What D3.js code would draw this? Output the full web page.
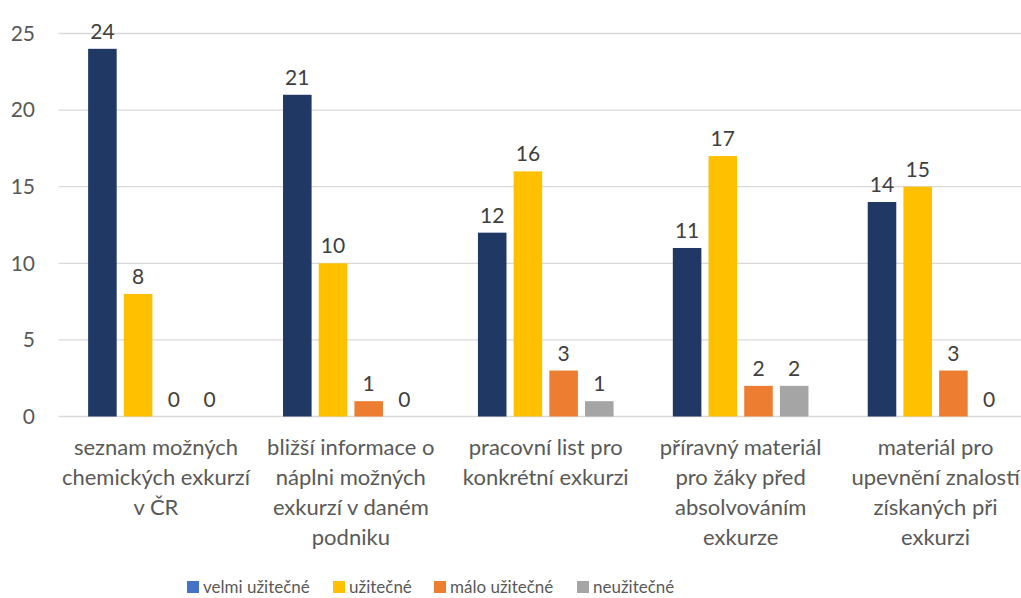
<!DOCTYPE html>
<html>
<head>
<meta charset="utf-8">
<script src="https://cdn.jsdelivr.net/npm/d3@7/dist/d3.min.js"></script>
<style>
  html, body { margin: 0; padding: 0; background: #fff; }
  svg { display: block; font-family: Lato, "Noto Sans", sans-serif; }
</style>
</head>
<body>
<svg id="chart" width="1021" height="598"></svg>
<script>
const categories = [
  ["seznam možných", "chemických exkurzí", "v ČR"],
  ["bližší informace o", "náplni možných", "exkurzí v daném", "podniku"],
  ["pracovní list pro", "konkrétní exkurzi"],
  ["příravný materiál", "pro žáky před", "absolvováním", "exkurze"],
  ["materiál pro", "upevnění znalostí", "získaných při", "exkurzi"]
];
const seriesNames = ["velmi užitečné", "užitečné", "málo užitečné", "neužitečné"];
const velmi = [24, 21, 12, 11, 14];
const uzitecne = [8, 10, 16, 17, 15];
const malo = [0, 1, 3, 2, 3];
const neuzitecne = [0, 0, 1, 2, 0];
const yTicks = [0, 5, 10, 15, 20, 25];

const barColors = ["#203864", "#FFC000", "#ED7D31", "#A5A5A5"];
const legendColors = ["#4472C4", "#FFC000", "#ED7D31", "#A5A5A5"];
const series = [velmi, uzitecne, malo, neuzitecne];

const W = 1021, H = 598;
const svg = d3.select("#chart");

const x0 = d3.scaleBand().domain(d3.range(categories.length)).range([58.5, 1033]).padding(0);
const x1 = d3.scaleBand().domain(d3.range(series.length))
  .range([0, x0.bandwidth()]).paddingInner(0.2).paddingOuter(0.83);
const y = d3.scaleLinear().domain([0, 25]).range([416.5, 33.5]);

// gridlines
svg.append("g").selectAll("line").data(yTicks).join("line")
  .attr("x1", 58.5).attr("x2", W)
  .attr("y1", d => y(d)).attr("y2", d => y(d))
  .attr("stroke", "#D9D9D9").attr("stroke-width", 1.3);

// y tick labels
svg.append("g").selectAll("text").data(yTicks).join("text")
  .attr("x", 35).attr("y", d => y(d)).attr("dy", "0.35em")
  .attr("text-anchor", "end").attr("fill", "#595959")
  .attr("font-size", 21).text(d => d);

// bars
const groups = svg.append("g").selectAll("g").data(categories).join("g")
  .attr("transform", (d, i) => `translate(${x0(i)},0)`);

groups.each(function (c, ci) {
  const g = d3.select(this);
  series.forEach((s, si) => {
    const v = s[ci];
    if (v > 0) {
      g.append("rect")
        .attr("x", x1(si)).attr("width", x1.bandwidth())
        .attr("y", y(v)).attr("height", y(0) - y(v))
        .attr("fill", barColors[si]);
    }
    g.append("text")
      .attr("x", x1(si) + x1.bandwidth() / 2)
      .attr("y", y(v) - 10)
      .attr("text-anchor", "middle").attr("fill", "#404040")
      .attr("font-size", 21).text(v);
  });
  // category labels
  const t = g.append("text")
    .attr("text-anchor", "middle").attr("fill", "#595959").attr("font-size", 22);
  c.forEach((line, li) => {
    t.append("tspan").attr("x", x0.bandwidth() / 2).attr("y", 455 + li * 30).text(line);
  });
});

// legend
const legendX = [187, 333, 434, 577];
const lg = svg.append("g").selectAll("g").data(seriesNames).join("g")
  .attr("transform", (d, i) => `translate(${legendX[i]},587)`);
lg.append("rect").attr("x", 0).attr("y", -6).attr("width", 12).attr("height", 12)
  .attr("fill", (d, i) => legendColors[i]);
lg.append("text").attr("x", 16).attr("dy", "0.35em").attr("fill", "#595959")
  .attr("font-size", 17).text(d => d);
</script>
</body>
</html>
